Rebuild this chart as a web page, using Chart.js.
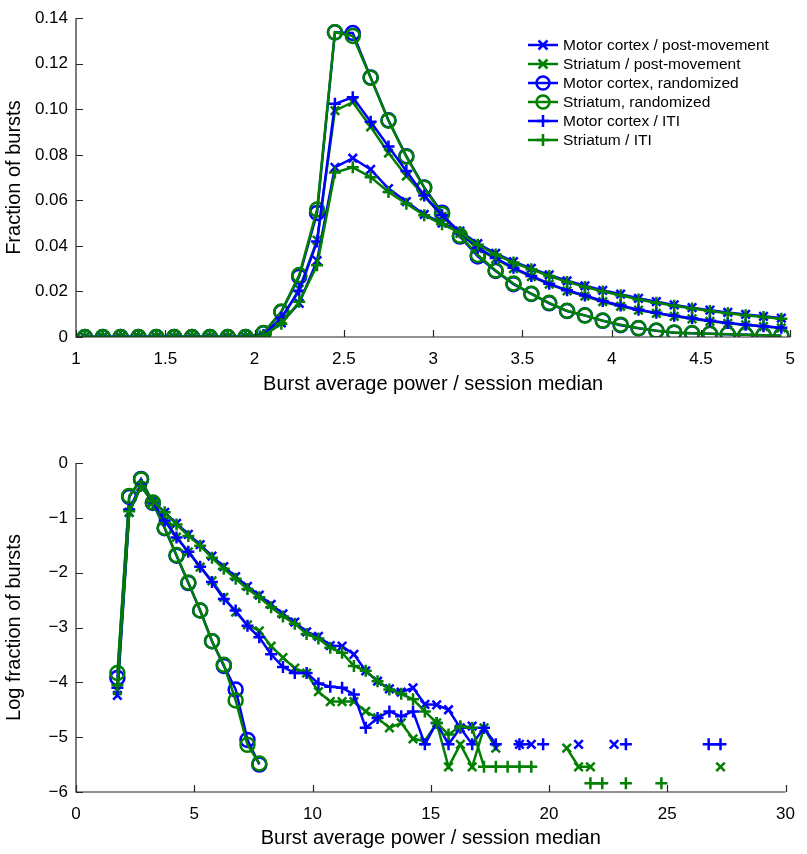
<!DOCTYPE html>
<html>
<head>
<meta charset="utf-8">
<script src="https://cdn.jsdelivr.net/npm/chart.js@4.4.1/dist/chart.umd.min.js"></script>
<style>
  body { margin: 0; background: #fff; }
  canvas { position: absolute; left: 0; }
  #topChart { top: 0; }
  #logChart { top: 400px; }
</style>
</head>
<body>
<canvas id="topChart" width="807" height="400"></canvas>
<canvas id="logChart" width="807" height="454"></canvas>
<script>
// ---- data: top panel (linear fraction) ----
const powerBins = [1.05, 1.15, 1.25, 1.35, 1.45, 1.55, 1.65, 1.75, 1.85, 1.95,
  2.05, 2.15, 2.25, 2.35, 2.45, 2.55, 2.65, 2.75, 2.85, 2.95,
  3.05, 3.15, 3.25, 3.35, 3.45, 3.55, 3.65, 3.75, 3.85, 3.95,
  4.05, 4.15, 4.25, 4.35, 4.45, 4.55, 4.65, 4.75, 4.85, 4.95];

const motorPost = [0, 0, 0, 0, 0, 0, 0, 0, 0, 0,
  0.0006, 0.0062, 0.0148, 0.0335, 0.0745, 0.0785, 0.0736, 0.0652, 0.0595, 0.0538,
  0.0500, 0.0465, 0.0410, 0.0367, 0.0331, 0.0301, 0.0273, 0.0247, 0.0225, 0.0205,
  0.0188, 0.0170, 0.0155, 0.0141, 0.0129, 0.0118, 0.0108, 0.0099, 0.0091, 0.0083];
const striatumPost = [0, 0, 0, 0, 0, 0, 0, 0, 0, 0,
  0.0009, 0.0078, 0.0210, 0.0425, 0.0994, 0.1031, 0.0923, 0.0808, 0.0707, 0.0620,
  0.0530, 0.0455, 0.0388, 0.0343, 0.0300, 0.0265, 0.0232, 0.0203, 0.0180, 0.0155,
  0.0135, 0.0118, 0.0104, 0.0091, 0.0080, 0.0069, 0.0060, 0.0053, 0.0046, 0.0040];
const motorRand = [0, 0, 0, 0, 0, 0, 0, 0, 0, 0,
  0.0016, 0.0110, 0.0265, 0.0545, 0.1338, 0.1335, 0.1140, 0.0952, 0.0794, 0.0657,
  0.0546, 0.0441, 0.0354, 0.0290, 0.0232, 0.0189, 0.0148, 0.0114, 0.0095, 0.0071,
  0.0052, 0.0038, 0.0027, 0.0019, 0.0016, 0.0014, 0.0012, 0.0010, 0.0008, 0.0006];
const striatumRand = [0, 0, 0, 0, 0, 0, 0, 0, 0, 0,
  0.0018, 0.0112, 0.0272, 0.0560, 0.1338, 0.1322, 0.1138, 0.0950, 0.0792, 0.0655,
  0.0540, 0.0445, 0.0360, 0.0292, 0.0235, 0.0190, 0.0150, 0.0115, 0.0094, 0.0072,
  0.0054, 0.0039, 0.0028, 0.0020, 0.0016, 0.0014, 0.0012, 0.0010, 0.0008, 0.0006];
const motorIti = [0, 0, 0, 0, 0, 0, 0, 0, 0, 0,
  0.0009, 0.0085, 0.0203, 0.0419, 0.1024, 0.1053, 0.0945, 0.0837, 0.0729, 0.0621,
  0.0535, 0.0460, 0.0392, 0.0347, 0.0304, 0.0268, 0.0234, 0.0205, 0.0182, 0.0158,
  0.0138, 0.0120, 0.0106, 0.0093, 0.0082, 0.0071, 0.0062, 0.0054, 0.0047, 0.0041];
const striatumIti = [0, 0, 0, 0, 0, 0, 0, 0, 0, 0,
  0.0005, 0.0058, 0.0155, 0.0315, 0.0722, 0.0745, 0.0702, 0.0637, 0.0585, 0.0535,
  0.0495, 0.0460, 0.0405, 0.0362, 0.0327, 0.0297, 0.0268, 0.0242, 0.0220, 0.0200,
  0.0183, 0.0165, 0.0150, 0.0137, 0.0125, 0.0114, 0.0104, 0.0096, 0.0088, 0.0080];

// ---- data: bottom panel (log fraction), null = empty bin ----
const logBins = [1.75, 2.25, 2.75, 3.25, 3.75, 4.25, 4.75, 5.25, 5.75, 6.25,
  6.75, 7.25, 7.75, 8.25, 8.75, 9.25, 9.75, 10.25, 10.75, 11.25,
  11.75, 12.25, 12.75, 13.25, 13.75, 14.25, 14.75, 15.25, 15.75, 16.25,
  16.75, 17.25, 17.75, 18.25, 18.75, 19.25, 19.75, 20.25, 20.75, 21.25,
  21.75, 22.25, 22.75, 23.25, 23.75, 24.25, 24.75, 25.25, 25.75, 26.25,
  26.75, 27.25];

const logMotorPost = [-4.24, -0.90, -0.43, -0.70, -0.90, -1.10, -1.30, -1.49, -1.70, -1.89,
  -2.07, -2.25, -2.41, -2.58, -2.75, -2.90, -3.08, -3.16, -3.33, -3.34,
  -3.49, -3.79, -3.98, -4.12, -4.18, -4.10, -4.40, -4.41, -4.50, -4.83,
  -4.80, null, null, null, -5.13, -5.13, null, null, null, -5.13,
  null, null, -5.13, null, null, null, null, null, null, null,
  null, null];
const logStriatumPost = [-4.15, -0.90, -0.42, -0.72, -1.05, -1.35, -1.62, -1.90, -2.15, -2.45,
  -2.72, -2.95, -3.06, -3.34, -3.55, -3.74, -3.83, -4.17, -4.35, -4.35,
  -4.35, -4.53, -4.65, -4.83, -4.74, -5.03, -5.07, -4.74, -5.54, -5.13,
  -5.54, -4.83, -5.20, null, null, null, null, null, -5.20, -5.54,
  -5.54, null, null, null, null, null, null, null, null, null,
  null, -5.54];
const logMotorRand = [-3.92, -0.62, -0.29, -0.73, -1.19, -1.69, -2.19, -2.69, -3.25, -3.70,
  -4.13, -5.05, -5.50];
const logStriatumRand = [-3.83, -0.60, -0.30, -0.72, -1.18, -1.68, -2.18, -2.69, -3.25, -3.68,
  -4.33, -5.14, -5.48];
const logMotorIti = [-4.10, -0.85, -0.40, -0.72, -1.05, -1.36, -1.62, -1.89, -2.17, -2.48,
  -2.69, -2.97, -3.18, -3.49, -3.72, -3.83, -3.83, -4.02, -4.08, -4.10,
  -4.22, -4.83, -4.65, -4.53, -4.62, -4.53, -5.13, -4.74, -5.13, -4.83,
  -5.13, -4.83, -5.13, null, -5.13, null, -5.13, null, null, null,
  null, null, null, -5.13, null, null, null, null, null, null,
  -5.13, -5.13];
const logStriatumIti = [-4.05, -0.88, -0.42, -0.70, -0.90, -1.12, -1.33, -1.51, -1.73, -1.93,
  -2.11, -2.30, -2.45, -2.63, -2.80, -2.93, -3.12, -3.20, -3.37, -3.46,
  -3.70, -3.79, -3.98, -4.13, -4.21, -4.31, -4.53, -4.74, -4.95, -4.80,
  -4.83, -5.54, -5.54, -5.54, -5.54, -5.54, null, null, null, null,
  -5.84, -5.84, null, -5.84, null, null, -5.84, null, null, null,
  null, null];

const seriesNames = ['Motor cortex / post-movement', 'Striatum / post-movement',
  'Motor cortex, randomized', 'Striatum, randomized',
  'Motor cortex / ITI', 'Striatum / ITI'];
const BLUE = '#0000ff';
const GREEN = '#007f00';
const seriesColors = [BLUE, GREEN, BLUE, GREEN, BLUE, GREEN];
const seriesMarkers = ['crossRot', 'crossRot', 'circle', 'circle', 'cross', 'cross'];

const FONT = "'Liberation Sans', Arial, Helvetica, sans-serif";

function toPoints(bins, vals) {
  return bins.map((x, i) => ({ x: x, y: vals[i] === undefined ? null : vals[i] }));
}

function makeDatasets(bins, list) {
  return list.map((vals, i) => ({
    label: seriesNames[i],
    data: toPoints(bins, vals),
    borderColor: seriesColors[i],
    backgroundColor: seriesColors[i],
    borderWidth: 2.5,
    pointStyle: seriesMarkers[i],
    pointRadius: seriesMarkers[i] === 'circle' ? 7 : 6,
    pointBorderWidth: 2.5,
    pointBorderColor: seriesColors[i],
    pointBackgroundColor: 'rgba(0,0,0,0)',
    spanGaps: false,
    tension: 0,
    order: list.length - i   // later series on top, like the original
  }));
}

// axis lines with inward ticks (box off look)
const axisPlugin = {
  id: 'inwardAxes',
  afterDatasetsDraw(chart) {
    const ctx = chart.ctx;
    const xs = chart.scales.x, ys = chart.scales.y;
    const left = xs.left, right = xs.right, top = ys.top, bottom = ys.bottom;
    ctx.save();
    ctx.strokeStyle = '#262626';
    ctx.lineWidth = 1.2;
    ctx.beginPath();
    ctx.moveTo(left, top);
    ctx.lineTo(left, bottom);
    ctx.lineTo(right, bottom);
    xs.ticks.forEach(t => {
      const px = Math.round(xs.getPixelForValue(t.value)) + 0.5;
      ctx.moveTo(px, bottom);
      ctx.lineTo(px, bottom - 7);
    });
    ys.ticks.forEach(t => {
      const py = Math.round(ys.getPixelForValue(t.value)) + 0.5;
      ctx.moveTo(left, py);
      ctx.lineTo(left + 7, py);
    });
    ctx.stroke();
    ctx.restore();
  }
};

function drawMarker(ctx, style, x, y, r) {
  ctx.beginPath();
  if (style === 'circle') {
    ctx.arc(x, y, r, 0, Math.PI * 2);
  } else if (style === 'cross') {
    ctx.moveTo(x - r, y); ctx.lineTo(x + r, y);
    ctx.moveTo(x, y - r); ctx.lineTo(x, y + r);
  } else {
    const d = r * 0.75;
    ctx.moveTo(x - d, y - d); ctx.lineTo(x + d, y + d);
    ctx.moveTo(x - d, y + d); ctx.lineTo(x + d, y - d);
  }
  ctx.stroke();
}

// legend drawn inside the plot, upper right
const legendPlugin = {
  id: 'innerLegend',
  afterDraw(chart) {
    const ctx = chart.ctx;
    const x0 = 528, y0 = 45, rowH = 19;
    ctx.save();
    ctx.font = '15.5px ' + FONT;
    ctx.textBaseline = 'middle';
    seriesNames.forEach((name, i) => {
      const y = y0 + i * rowH;
      ctx.strokeStyle = seriesColors[i];
      ctx.lineWidth = 2.5;
      ctx.beginPath();
      ctx.moveTo(x0, y); ctx.lineTo(x0 + 30, y);
      ctx.stroke();
      drawMarker(ctx, seriesMarkers[i], x0 + 15, y, seriesMarkers[i] === 'circle' ? 6.5 : 6);
      ctx.fillStyle = '#000';
      ctx.fillText(name, x0 + 35, y + 1);
    });
    ctx.restore();
  }
};

function baseOptions(cfg) {
  return {
    responsive: false,
    animation: false,
    events: [],
    layout: { padding: { top: cfg.padTop, right: cfg.padRight, left: 0, bottom: 0 } },
    plugins: { legend: { display: false }, tooltip: { enabled: false } },
    scales: {
      x: {
        type: 'linear',
        min: cfg.xMin, max: cfg.xMax,
        grid: { display: false, drawTicks: false },
        border: { display: false },
        ticks: { stepSize: cfg.xStep, color: '#000', padding: 12, font: { family: FONT, size: 17 },
          callback: v => String(Math.round(v * 10) / 10) },
        title: { display: true, text: 'Burst average power / session median', color: '#000',
          font: { family: FONT, size: 20 }, padding: { top: 0, bottom: 4 } },
        afterFit(scale) { scale.height = cfg.xHeight; }
      },
      y: {
        type: 'linear',
        min: cfg.yMin, max: cfg.yMax,
        grid: { display: false, drawTicks: false },
        border: { display: false },
        ticks: { stepSize: cfg.yStep, color: '#000', padding: 8, font: { family: FONT, size: 17 },
          callback: cfg.yFormat },
        title: { display: true, text: cfg.yTitle, color: '#000',
          font: { family: FONT, size: 20 }, padding: { top: 2, bottom: 0 } },
        afterFit(scale) { scale.width = 76; }
      }
    }
  };
}

new Chart(document.getElementById('topChart'), {
  type: 'line',
  data: {
    datasets: makeDatasets(powerBins,
      [motorPost, striatumPost, motorRand, striatumRand, motorIti, striatumIti])
  },
  options: baseOptions({
    padTop: 13, padRight: 12, xHeight: 63,
    xMin: 1, xMax: 5, xStep: 0.5,
    yMin: 0, yMax: 0.14, yStep: 0.02,
    yTitle: 'Fraction of bursts',
    yFormat: v => (Math.abs(v) < 1e-9 ? '0' : v.toFixed(2))
  }),
  plugins: [axisPlugin, legendPlugin]
});

new Chart(document.getElementById('logChart'), {
  type: 'line',
  data: {
    datasets: makeDatasets(logBins,
      [logMotorPost, logStriatumPost, logMotorRand, logStriatumRand, logMotorIti, logStriatumIti])
  },
  options: baseOptions({
    padTop: 63, padRight: 11, xHeight: 62,
    xMin: 0, xMax: 30, xStep: 5,
    yMin: -6, yMax: 0, yStep: 1,
    yTitle: 'Log fraction of bursts',
    yFormat: v => (v < 0 ? '\u2212' + Math.abs(v) : String(v))
  }),
  plugins: [axisPlugin]
});
</script>
</body>
</html>
